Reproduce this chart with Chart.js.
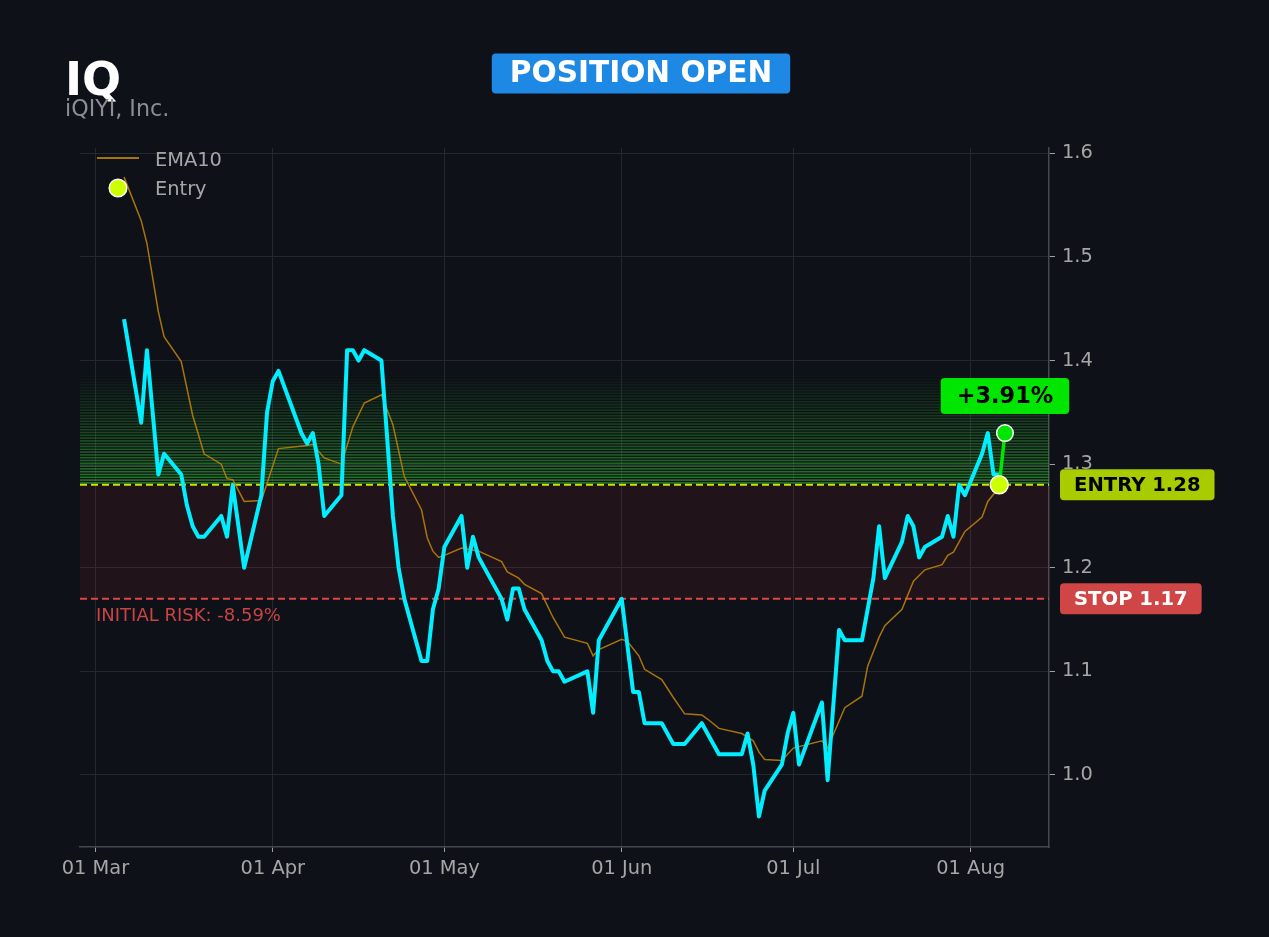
<!DOCTYPE html>
<html>
<head>
<meta charset="utf-8">
<script src="https://cdn.jsdelivr.net/npm/chart.js@4.4.0/dist/chart.umd.min.js"></script>
<style>
  html, body { margin: 0; padding: 0; background: #0e1117; }
  canvas { display: block; }
</style>
</head>
<body>
<canvas id="chart" width="1269" height="937"></canvas>
<script>
// price (close) by trading day
const priceDates = ['03-06','03-09','03-10','03-12','03-13','03-16','03-17','03-18','03-19','03-20',
  '03-23','03-24','03-25','03-27','03-30','03-31','04-01','04-02','04-06','04-07','04-08','04-09','04-10',
  '04-13','04-14','04-15','04-16','04-17','04-20','04-22','04-23','04-24','04-27','04-28','04-29','04-30',
  '05-01','05-04','05-05','05-06','05-07','05-11','05-12','05-13','05-14','05-15','05-18','05-19','05-20',
  '05-21','05-22','05-26','05-27','05-28','06-01','06-03','06-04','06-05','06-08','06-10','06-12','06-15',
  '06-18','06-22','06-23','06-24','06-25','06-26','06-29','06-30','07-01','07-02','07-06','07-07','07-09',
  '07-10','07-13','07-15','07-16','07-17','07-20','07-21','07-22','07-23','07-24','07-27','07-28','07-29',
  '07-30','07-31','08-03','08-04','08-05','08-06'];
const priceValues = [1.44,1.34,1.41,1.29,1.31,1.29,1.26,1.24,1.23,1.23,
  1.25,1.23,1.28,1.20,1.27,1.35,1.38,1.39,1.33,1.32,1.33,1.30,1.25,
  1.27,1.41,1.41,1.40,1.41,1.40,1.25,1.20,1.17,1.11,1.11,1.16,1.18,
  1.22,1.25,1.20,1.23,1.21,1.17,1.15,1.18,1.18,1.16,1.13,1.11,1.10,
  1.10,1.09,1.10,1.06,1.13,1.17,1.08,1.08,1.05,1.05,1.03,1.03,1.05,
  1.02,1.02,1.04,1.01,0.96,0.985,1.01,1.04,1.06,1.01,1.07,0.995,1.14,
  1.13,1.13,1.19,1.24,1.19,1.225,1.25,1.24,1.21,1.22,1.23,1.25,1.23,
  1.28,1.27,1.31,1.33,1.29,1.29];

const emaDates = ['03-06','03-09','03-10','03-12','03-13','03-16','03-18','03-20','03-23','03-24','03-25',
  '03-27','03-30','04-02','04-07','04-08','04-10','04-13','04-15','04-17','04-20','04-22','04-24','04-27',
  '04-28','04-29','04-30','05-01','05-04','05-05','05-07','05-11','05-12','05-14','05-15','05-18','05-20',
  '05-22','05-26','05-27','05-28','06-01','06-02','06-04','06-05','06-08','06-10','06-12','06-15','06-16',
  '06-18','06-22','06-24','06-25','06-26','06-29','07-01','07-06','07-07','07-08','07-10','07-13','07-14',
  '07-16','07-17','07-20','07-22','07-24','07-27','07-28','07-29','07-31','08-03','08-04','08-05','08-06'];
const emaValues = [1.577,1.535,1.513,1.447,1.423,1.399,1.347,1.31,1.30,1.286,1.285,
  1.264,1.265,1.315,1.318,1.319,1.306,1.30,1.336,1.359,1.367,1.338,1.288,1.256,
  1.229,1.216,1.21,1.212,1.219,1.218,1.216,1.206,1.196,1.19,1.184,1.175,1.152,
  1.133,1.127,1.115,1.121,1.131,1.129,1.115,1.102,1.092,1.075,1.059,1.058,1.054,
  1.045,1.040,1.033,1.022,1.015,1.014,1.026,1.033,1.026,1.039,1.065,1.076,1.105,
  1.133,1.144,1.160,1.187,1.198,1.203,1.212,1.215,1.235,1.249,1.264,1.271,1.274];

const entryDate = '08-06', entryPrice = 1.28;
const currentDate = '08-07', currentPrice = 1.33;
const stopPrice = 1.17;

const monthTicks = ['03-01','04-01','05-01','06-01','07-01','08-01'];
const monthLabels = ['01 Mar','01 Apr','01 May','01 Jun','01 Jul','01 Aug'];
const priceTicks = [1.0, 1.1, 1.2, 1.3, 1.4, 1.5, 1.6];

const YEAR = 2020;
const dayOf = s => {
  const [m, d] = s.split('-').map(Number);
  return (Date.UTC(YEAR, m - 1, d) - Date.UTC(YEAR, 2, 1)) / 86400000;
};
const pts = (dates, vals) => dates.map((d, i) => ({ x: dayOf(d), y: vals[i] }));

const FONT = "'DejaVu Sans', sans-serif";
const GRID = '#24272d';
const TXT = '#a6a6a6';
const EMA_COL = 'rgba(184,128,10,0.9)';
const ENTRY_COL = '#ccff00';
const GAIN_COL = '#00e600';

const pct = (currentPrice - entryPrice) / entryPrice * 100;
const risk = (stopPrice - entryPrice) / entryPrice * 100;

function badge(ctx, cx, cy, text, fill, color, size, padX, h) {
  ctx.font = 'bold ' + size + 'px ' + FONT;
  const w = ctx.measureText(text).width + padX * 2;
  ctx.fillStyle = fill;
  ctx.beginPath();
  ctx.roundRect(cx - w / 2, cy - h / 2, w, h, 4);
  ctx.fill();
  ctx.fillStyle = color;
  ctx.textAlign = 'center';
  ctx.textBaseline = 'middle';
  ctx.fillText(text, cx, cy + 1);
  return w;
}

const zones = {
  id: 'zones',
  beforeDatasetsDraw(chart) {
    const { ctx, chartArea: a, scales: { y } } = chart;
    ctx.save();
    ctx.beginPath();
    ctx.rect(a.left, a.top, a.width, a.height);
    ctx.clip();
    const yE = y.getPixelForValue(entryPrice);
    const yS = y.getPixelForValue(stopPrice);
    ctx.fillStyle = 'rgba(255,60,60,0.08)';
    ctx.fillRect(a.left, yE, a.width, yS - yE);
    // striped profit zone above entry
    const n = 40, top = 1.388;
    for (let i = 0; i < n; i++) {
      const p0 = y.getPixelForValue(entryPrice + (top - entryPrice) * i / n);
      const p1 = y.getPixelForValue(entryPrice + (top - entryPrice) * (i + 1) / n);
      ctx.fillStyle = 'rgba(55,200,55,' + (0.55 * (1 - i / n)).toFixed(3) + ')';
      ctx.fillRect(a.left, p1, a.width, Math.max(1, p0 - p1 - 1.2));
    }
    ctx.lineWidth = 2;
    ctx.setLineDash([7, 4]);
    ctx.strokeStyle = '#cce600';
    ctx.beginPath(); ctx.moveTo(a.left, yE); ctx.lineTo(a.right, yE); ctx.stroke();
    ctx.strokeStyle = '#e04646';
    ctx.beginPath(); ctx.moveTo(a.left, yS); ctx.lineTo(a.right, yS); ctx.stroke();
    ctx.restore();
  },
  afterDraw(chart) {
    const { ctx, chartArea: a, scales: { x, y } } = chart;
    ctx.save();
    // title
    ctx.textAlign = 'left';
    ctx.textBaseline = 'alphabetic';
    ctx.fillStyle = '#ffffff';
    ctx.font = 'bold 46px ' + FONT;
    ctx.fillText('IQ', 65, 95);
    ctx.fillStyle = '#8b8e94';
    ctx.font = '22.2px ' + FONT;
    ctx.fillText('iQIYI, Inc.', 65, 116);
    badge(ctx, 641, 73.5, 'POSITION OPEN', '#1e88e5', '#ffffff', 29.6, 18, 40);

    // legend
    ctx.strokeStyle = EMA_COL;
    ctx.lineWidth = 2;
    ctx.beginPath(); ctx.moveTo(97, 158); ctx.lineTo(139, 158); ctx.stroke();
    ctx.beginPath(); ctx.arc(118, 188, 8.8, 0, Math.PI * 2);
    ctx.fillStyle = ENTRY_COL; ctx.fill();
    ctx.strokeStyle = '#ffffff'; ctx.lineWidth = 1.5; ctx.stroke();
    ctx.fillStyle = TXT;
    ctx.font = '19.4px ' + FONT;
    ctx.textAlign = 'left';
    ctx.textBaseline = 'alphabetic';
    ctx.fillText('EMA10', 155, 165.5);
    ctx.fillText('Entry', 155, 195);

    // risk text
    ctx.fillStyle = '#c94444';
    ctx.font = '18px ' + FONT;
    ctx.fillText('INITIAL RISK: ' + risk.toFixed(2) + '%', 96, 621);

    // right side labels
    const yE = y.getPixelForValue(entryPrice);
    const yS = y.getPixelForValue(stopPrice);
    ctx.font = 'bold 19.6px ' + FONT;
    const wE = ctx.measureText('ENTRY ' + entryPrice.toFixed(2)).width + 28;
    badge(ctx, a.right + 11 + wE / 2, yE, 'ENTRY ' + entryPrice.toFixed(2), '#a8cc00', '#000000', 19.6, 14, 31);
    ctx.font = 'bold 19.6px ' + FONT;
    const wS = ctx.measureText('STOP ' + stopPrice.toFixed(2)).width + 28;
    badge(ctx, a.right + 11 + wS / 2, yS, 'STOP ' + stopPrice.toFixed(2), '#d04545', '#ffffff', 19.6, 14, 31);

    // gain label above current point
    const cx = x.getPixelForValue(dayOf(currentDate));
    const cy = y.getPixelForValue(currentPrice);
    badge(ctx, cx, cy - 37, '+' + pct.toFixed(2) + '%', GAIN_COL, '#000000', 22.4, 16, 36);
    ctx.restore();
  }
};

Chart.defaults.font.family = FONT;
Chart.defaults.color = TXT;

new Chart(document.getElementById('chart'), {
  type: 'line',
  data: {
    datasets: [
      {
        label: 'Entry',
        data: [{ x: dayOf(entryDate), y: entryPrice }],
        showLine: false,
        pointRadius: 9,
        pointBackgroundColor: ENTRY_COL,
        pointBorderColor: '#ffffff',
        pointBorderWidth: 1.5,
        order: 0
      },
      {
        label: 'Current',
        data: [{ x: dayOf(currentDate), y: currentPrice }],
        showLine: false,
        pointRadius: 8.3,
        pointBackgroundColor: GAIN_COL,
        pointBorderColor: '#ffffff',
        pointBorderWidth: 1.5,
        order: 0
      },
      {
        label: 'Move',
        data: [{ x: dayOf(entryDate), y: entryPrice }, { x: dayOf(currentDate), y: currentPrice }],
        borderColor: GAIN_COL,
        borderWidth: 3.5,
        pointRadius: 0,
        order: 1
      },
      {
        label: 'Price',
        data: pts(priceDates, priceValues),
        borderColor: '#00eeff',
        borderWidth: 4,
        borderJoinStyle: 'round',
        pointRadius: 0,
        tension: 0,
        order: 2
      },
      {
        label: 'EMA10',
        data: pts(emaDates, emaValues),
        borderColor: EMA_COL,
        borderWidth: 1.5,
        pointRadius: 0,
        tension: 0,
        order: 3
      }
    ]
  },
  options: {
    responsive: false,
    animation: false,
    layout: { padding: { left: 80, top: 147.5, right: 0, bottom: 0 } },
    plugins: {
      legend: { display: false },
      tooltip: { enabled: false }
    },
    scales: {
      x: {
        type: 'linear',
        min: -2.7,
        max: 166.7,
        afterBuildTicks: s => { s.ticks = monthTicks.map(d => ({ value: dayOf(d) })); },
        afterFit: s => { s.height = 90; },
        ticks: {
          callback: (v, i) => monthLabels[i],
          color: TXT,
          font: { size: 19.4 },
          padding: 5,
          maxRotation: 0,
          autoSkip: false
        },
        grid: { color: GRID, tickColor: '#a0a0a0', tickLength: 5 },
        border: { color: '#45484d', width: 1.5 }
      },
      y: {
        position: 'right',
        min: 0.9305,
        max: 1.6056,
        afterBuildTicks: s => { s.ticks = priceTicks.map(v => ({ value: v })); },
        afterFit: s => { s.width = 220; },
        ticks: {
          callback: (v, i) => priceTicks[i].toFixed(1),
          color: TXT,
          font: { size: 19.4 },
          padding: 7
        },
        grid: { color: GRID, tickColor: '#a0a0a0', tickLength: 6 },
        border: { color: '#45484d', width: 1.5 }
      }
    }
  },
  plugins: [zones]
});
</script>
</body>
</html>
